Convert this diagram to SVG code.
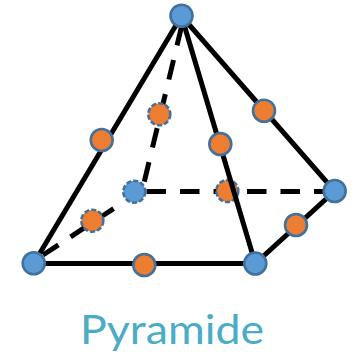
<svg xmlns="http://www.w3.org/2000/svg" width="356" height="361" viewBox="0 0 356 361">
<style>
.s{fill:none;stroke:#000;stroke-width:5}
.b{fill:#5b9bd5}
.o{fill:#ed7d31}
.n{stroke:#41719c;stroke-width:2.6}
.h{stroke-dasharray:5 2.2}
text{font-family:"Lato","Open Sans",sans-serif;font-size:41px;fill:#4bacc6}
</style>
<rect width="356" height="361" fill="#fff"/>
<g id="connectors-hidden">
<path class="s" stroke-dasharray="20 15" d="M181.7 26L143 187"/>
<path class="s" stroke-dasharray="19.5 14" d="M146.5 191.5H335"/>
<path class="s" stroke-dasharray="18.5 14.5" d="M43 255L116 207"/>
</g>
<g id="n-back"><circle class="b n h" cx="134.3" cy="191.7" r="11"/></g>
<g id="m-back-top"><circle class="o n h" cx="159.3" cy="114.3" r="11"/></g>
<g id="m-back-left"><circle class="o n h" cx="92.3" cy="220.7" r="11"/></g>
<g id="m-back-right"><circle class="o n h" cx="227.3" cy="191" r="11"/></g>
<g id="connectors">
<path class="s" d="M181.5 16L33.7 263.5H255.3L334.7 191L181.5 16L255.3 263.5"/>
</g>
<g id="n-top"><circle class="b n" cx="181.5" cy="15.7" r="11"/></g>
<g id="n-left"><circle class="b n" cx="33.7" cy="263.3" r="11"/></g>
<g id="n-front"><circle class="b n" cx="255.3" cy="263.5" r="11"/></g>
<g id="n-right"><circle class="b n" cx="334.7" cy="191" r="11"/></g>
<g id="m-left-top"><circle class="o n" cx="101.7" cy="140" r="11"/></g>
<g id="m-right-top"><circle class="o n" cx="264" cy="110.7" r="11"/></g>
<g id="m-front-top"><circle class="o n" cx="220.3" cy="144" r="11"/></g>
<g id="m-left-front"><circle class="o n" cx="144.3" cy="265" r="11"/></g>
<g id="m-front-right"><circle class="o n" cx="296" cy="225" r="11"/></g>
<text id="label" x="80" y="344" textLength="184" lengthAdjust="spacingAndGlyphs">Pyramide</text>
</svg>
